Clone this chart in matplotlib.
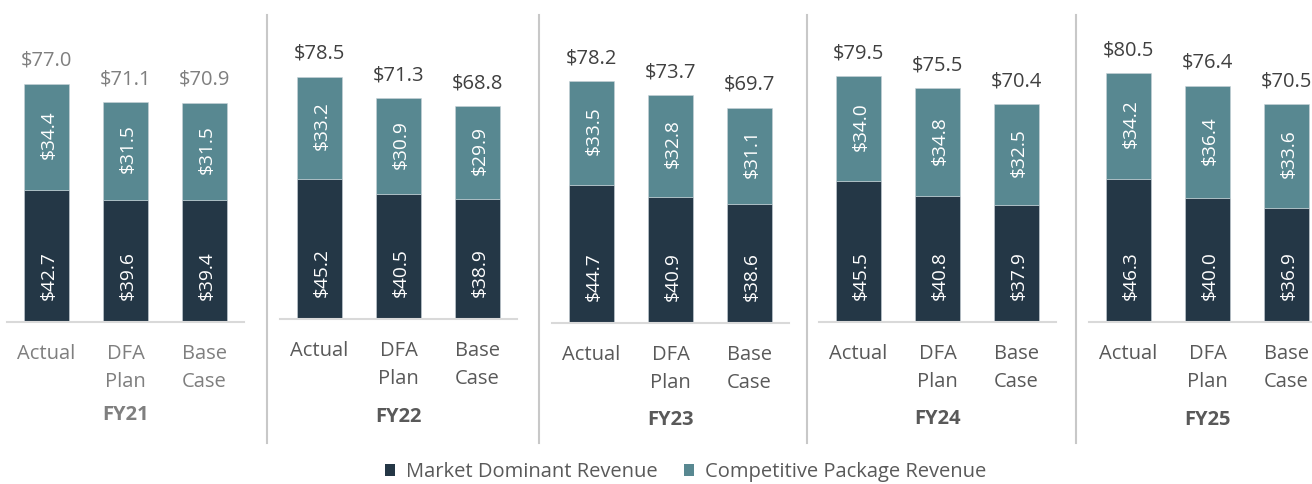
import matplotlib
matplotlib.use("Agg")
import matplotlib.pyplot as plt
from matplotlib.patches import Patch
from matplotlib.lines import Line2D

plt.rcParams['font.family'] = ['Open Sans', 'DejaVu Sans']

years = ["FY21", "FY22", "FY23", "FY24", "FY25"]
categories = ["Actual", "DFA\nPlan", "Base\nCase"]
market_dominant = [
    [42.7, 39.6, 39.4],
    [45.2, 40.5, 38.9],
    [44.7, 40.9, 38.6],
    [45.5, 40.8, 37.9],
    [46.3, 40.0, 36.9],
]
competitive = [
    [34.4, 31.5, 31.5],
    [33.2, 30.9, 29.9],
    [33.5, 32.8, 31.1],
    [34.0, 34.8, 32.5],
    [34.2, 36.4, 33.6],
]
totals = [
    [77.0, 71.1, 70.9],
    [78.5, 71.3, 68.8],
    [78.2, 73.7, 69.7],
    [79.5, 75.5, 70.4],
    [80.5, 76.4, 70.5],
]

W, H = 1312, 484
DPI = 100
fig = plt.figure(figsize=(W / DPI, H / DPI), dpi=DPI)

C_DARK = "#243746"
C_TEAL = "#588891"
PX_PER_UNIT = 3.09
PT = 0.72  # points per pixel

panel_left = [7, 280, 552, 819, 1089]
panel_base = [322, 319, 323, 322, 322]
panel_width = 237
text_colors = ["#7f7f7f", "#595959", "#595959", "#595959", "#595959"]
total_colors = ["#7f7f7f", "#404040", "#404040", "#404040", "#404040"]
fy_offset = [93, 98, 97, 97, 98]

FS_IN = 13.8
FS = 14.5

for i, yr in enumerate(years):
    L = panel_left[i]
    B = panel_base[i]
    ax = fig.add_axes([L / W, 1 - B / H, panel_width / W, B / H])
    ax.set_xlim(-0.5, 2.5)
    ax.set_ylim(0, B / PX_PER_UNIT)
    ax.patch.set_alpha(0)
    for s in ["top", "left", "right"]:
        ax.spines[s].set_visible(False)
    ax.spines["bottom"].set_color("#d9d9d9")
    ax.spines["bottom"].set_linewidth(1.5)
    ax.set_xticks([])
    ax.set_yticks([])
    xs = list(range(3))
    md = market_dominant[i]
    cp = competitive[i]
    ax.bar(xs, md, width=0.57, color=C_DARK, edgecolor="#c9d3d8", linewidth=0.4, zorder=2)
    ax.bar(xs, cp, width=0.57, bottom=md, color=C_TEAL, edgecolor="#c9d3d8", linewidth=0.4, zorder=2)
    for j, x in enumerate(xs):
        ax.annotate(f"${md[j]:.1f}", xy=(x, 0), xytext=(1.5, 22 * PT), textcoords="offset points",
                    rotation=90, ha="center", va="bottom", color="white", fontsize=FS_IN, zorder=3)
        ax.annotate(f"${cp[j]:.1f}", xy=(x, md[j] + cp[j] / 2), xytext=(1.5, 2 * PT), textcoords="offset points",
                    rotation=90, ha="center", va="center", color="white", fontsize=FS_IN, zorder=3)
        ax.annotate(f"${totals[i][j]:.1f}", xy=(x, md[j] + cp[j]), xytext=(0, 23 * PT), textcoords="offset points",
                    ha="center", va="center", color=total_colors[i], fontsize=FS, annotation_clip=False)
        ax.annotate(categories[j], xy=(x, 0), xytext=(0, -22 * PT), textcoords="offset points",
                    ha="center", va="top", color=text_colors[i], fontsize=FS, linespacing=1.55,
                    annotation_clip=False)
    ax.annotate(yr, xy=(1, 0), xytext=(0, -fy_offset[i] * PT), textcoords="offset points",
                ha="center", va="center", color=text_colors[i], fontsize=FS, fontweight="bold",
                annotation_clip=False)

for xsep in [267, 539, 807, 1076]:
    fig.add_artist(Line2D([xsep / W, xsep / W], [1 - 15 / H, 1 - 443 / H], color="#c8c8c8", linewidth=1.5))

handles = [Patch(facecolor=C_DARK, label="Market Dominant Revenue"),
           Patch(facecolor=C_TEAL, label="Competitive Package Revenue")]
leg = fig.legend(handles=handles, loc="center", bbox_to_anchor=(686 / W, 1 - 472 / H), ncol=2, frameon=False,
                 fontsize=FS, handlelength=0.5, handleheight=0.5, handletextpad=0.55, columnspacing=1.3,
                 borderaxespad=0, borderpad=0)
for t in leg.get_texts():
    t.set_color("#595959")

fig.savefig("out.png", dpi=DPI)
